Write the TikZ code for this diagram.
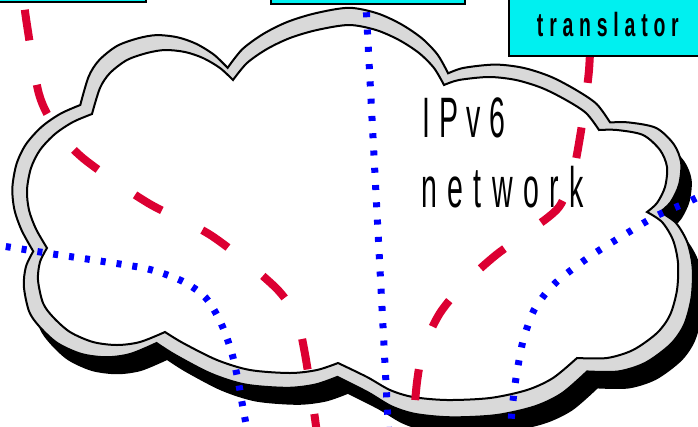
\documentclass[tikz,border=0pt]{standalone}
\usepackage{fontspec}
\setmainfont{Liberation Sans}
\definecolor{boxcyan}{RGB}{0,240,240}
\definecolor{linkred}{RGB}{220,0,50}
\definecolor{bandgray}{RGB}{217,217,217}
\definecolor{linkblue}{RGB}{0,0,255}
\tikzset{
  cyanbox/.style={draw=black, line width=1.8pt, fill=boxcyan, inner sep=0pt},
  redlink/.style={draw=linkred, line width=8pt},
  bluelink/.style={draw=linkblue, line width=7pt},
  cloudline/.style={draw=black, line width=2pt},
  bigtext/.style={inner sep=0pt, anchor=base west, font=\fontsize{57}{60}\selectfont},
}
\def\cloudpath{%
 plot[smooth] coordinates {(47,248) (36,229) (29,210) (27,190) (31,168) (40,150) (55,134) (73,122) (92,114)}
 -- plot[smooth] coordinates {(92,114) (100,88) (110,73) (127,60) (147,53) (165,50) (185,52) (203,58) (220,68) (233,80)}
 -- plot[smooth] coordinates {(233,80) (247,63) (267,49) (290,38) (317,30) (349,25) (376,30) (399,40) (419,53) (434,68) (444,85)}
 -- plot[smooth] coordinates {(444,85) (459,80) (489,77) (516,80) (542,88) (566,100) (586,113) (599,130)}
 -- plot[smooth] coordinates {(599,130) (617,130) (643,135) (660,150) (667,167) (665,187) (657,203) (647,212)}
 -- plot[smooth] coordinates {(647,212) (662,222) (673,240) (678,263) (677,290) (670,315) (657,333) (633,350) (607,358) (577,358)}
 -- plot[smooth] coordinates {(577,358) (553,378) (527,390) (490,398) (447,400) (413,397) (390,390) (367,377) (338,363)}
 -- plot[smooth] coordinates {(338,363) (317,370) (290,373) (250,370) (217,360) (183,343) (165,332)}
 -- plot[smooth] coordinates {(165,332) (140,342) (117,345) (93,342) (70,332) (53,317) (43,303) (38,280) (40,262) (47,248)}
 -- cycle}
\begin{document}
\begin{tikzpicture}[x=1pt,y=-1pt]
\useasboundingbox (0,0) rectangle (698,426);
\clip (0,0) rectangle (698,426);
% cloud: shadow, grey band, white interior
\begin{scope}[shift={(363,229)}, xscale=1.045, yscale=1.092, shift={(-352.5,-212)}]
  \fill[black] \cloudpath;
\end{scope}
\begin{scope}[shift={(352.5,212)}, xscale=1.045, yscale=1.092, shift={(-352.5,-212)}]
  \filldraw[fill=bandgray, cloudline] \cloudpath;
\end{scope}
\filldraw[fill=white, cloudline] \cloudpath;
% label
\node[bigtext] (ipv6) at (422.4,137) {\scalebox{0.5}[1]{I\hspace{17pt}P\hspace{17pt}v\hspace{17pt}6}};
\node[bigtext] (net) at (421,207) {\scalebox{0.5}[1]{n\hspace{21pt}e\hspace{21pt}t\hspace{21pt}w\hspace{21pt}o\hspace{21pt}r\hspace{21pt}k}};
% connector end points
\coordinate (r1a) at (21,-20);
\coordinate (r1b) at (319,460);
\coordinate (r2a) at (591,30);
\coordinate (r2b) at (412,440);
\coordinate (bva) at (365.5,-5);
\coordinate (bvb) at (389,440);
\coordinate (bla) at (-10,244);
\coordinate (blb) at (249,440);
\coordinate (bra) at (712,190);
\coordinate (brb) at (510,440);
% blue dotted connectors
\draw[bluelink, dash pattern=on 5pt off 12.3pt] (bva) -- (bvb);
\draw[bluelink, dash pattern=on 5pt off 11pt] plot[smooth] coordinates {(bla) (53,254) (100,261) (148,269) (182,281) (205,297) (220,321) (231,350) (238,380) (243,408) (blb)};
\draw[bluelink, dash pattern=on 5pt off 13pt] plot[smooth] coordinates {(bra) (688,202) (656,216) (624,235) (592,255) (561,278) (546,293) (534,310) (527,328) (522,345) (516,378) (512,410) (brb)};
% red dashed connectors
\draw[redlink, dash pattern=on 31pt off 45pt, dash phase=46pt] plot[smooth] coordinates {(r1a) (27,25) (39,94) (56,128) (84,159) (148,203) (212,236) (275,287) (296,318) (305,354) (316,426) (r1b)};
\draw[redlink, dash pattern=on 31pt off 45pt, dash phase=54pt] plot[smooth] coordinates {(r2a) (589,70) (585,103) (580,137) (573,172) (559,207) (528,232) (496,255) (465,283) (440,313) (424,347) (417,382) (r2b)};
% boxes
\node[cyanbox, anchor=south east, minimum width=180pt, minimum height=30pt] (boxL) at (147,3) {};
\node[cyanbox, anchor=south west, minimum width=194pt, minimum height=30pt] (boxM) at (270,5) {};
\node[cyanbox, anchor=south west, minimum width=198pt, minimum height=64pt, font=\bfseries\fontsize{33.5}{36}\selectfont] (trans) at (508,57)
  {\scalebox{0.58}[1]{t\hspace{10pt}r\hspace{10pt}a\hspace{10pt}n\hspace{10pt}s\hspace{10pt}l\hspace{10pt}a\hspace{10pt}t\hspace{10pt}o\hspace{10pt}r}};
\end{tikzpicture}
\end{document}
